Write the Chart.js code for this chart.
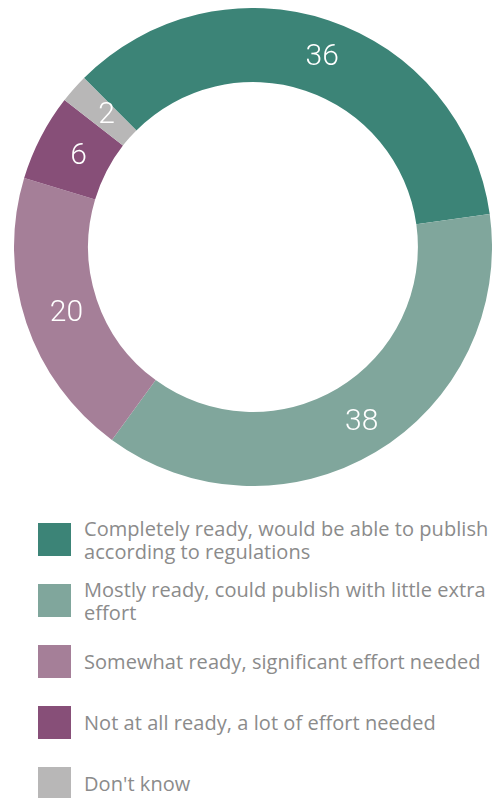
<!DOCTYPE html>
<html lang="en">
<head>
    <meta charset="UTF-8">
    <title>Readiness</title>
    <script src="https://cdn.jsdelivr.net/npm/chart.js"></script>
    <style>
        html, body { margin: 0; padding: 0; background: #fff; }
        body { width: 493px; height: 798px; position: relative; overflow: hidden; }
        #chart-box { position: absolute; left: 14px; top: 8px; width: 478px; height: 478px; }
        #legend { position: absolute; left: 38px; top: 509px; width: 458px; font-family: "Open Sans", sans-serif; }
        .item { display: flex; align-items: center; height: 61px; }
        .swatch { width: 33px; height: 33px; flex: none; margin-right: 13px; }
        .text { color: #8b8b8b; font-size: 20px; line-height: 23px; letter-spacing: 0.05px; }
    </style>
</head>
<body>
    <div id="chart-box"><canvas id="donut"></canvas></div>
    <div id="legend"></div>

    <script>
        // categories and values
        const labels = [
            'Completely ready, would be able to publish according to regulations',
            'Mostly ready, could publish with little extra effort',
            'Somewhat ready, significant effort needed',
            'Not at all ready, a lot of effort needed',
            "Don't know"
        ];
        const values = [36, 38, 20, 6, 2];
        const colors = ['#3c8477', '#80a69c', '#a57f98', '#874f78', '#b8b7b7'];

        // white numbers in the middle of each slice
        const sliceLabels = {
            id: 'sliceLabels',
            afterDatasetsDraw(chart) {
                const ctx = chart.ctx;
                const meta = chart.getDatasetMeta(0);
                ctx.save();
                ctx.fillStyle = '#ffffff';
                ctx.font = '300 30px Roboto, sans-serif';
                ctx.textAlign = 'center';
                ctx.textBaseline = 'middle';
                meta.data.forEach((arc, i) => {
                    const p = arc.tooltipPosition();
                    ctx.fillText(values[i], p.x + 5, p.y + 2);
                });
                ctx.restore();
            }
        };

        new Chart(document.getElementById('donut'), {
            type: 'doughnut',
            data: {
                labels: labels,
                datasets: [{
                    data: values,
                    backgroundColor: colors,
                    borderWidth: 0
                }]
            },
            options: {
                responsive: true,
                maintainAspectRatio: false,
                animation: false,
                cutout: '69%',
                rotation: -45,
                layout: { padding: 0 },
                plugins: {
                    legend: { display: false },
                    tooltip: { enabled: false }
                }
            },
            plugins: [sliceLabels]
        });

        // legend below the ring
        const legend = document.getElementById('legend');
        labels.forEach((lab, i) => {
            const row = document.createElement('div');
            row.className = 'item';
            row.innerHTML = '<div class="swatch" style="background:' + colors[i] + '"></div><div class="text">' + lab + '</div>';
            legend.appendChild(row);
        });
    </script>
</body>
</html>
